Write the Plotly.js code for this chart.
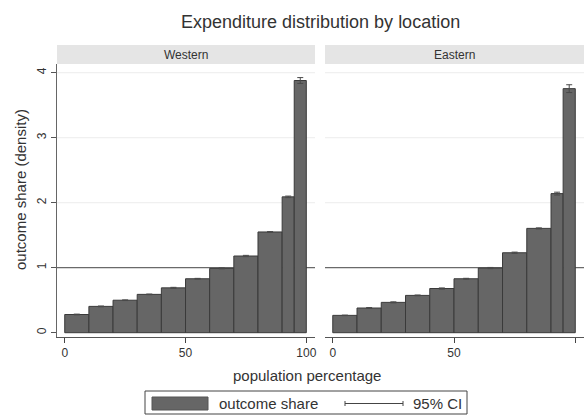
<!DOCTYPE html>
<html>
<head>
<meta charset="utf-8">
<script src="https://cdn.plot.ly/plotly-3.0.1.min.js"></script>
<style>html,body{margin:0;padding:0;background:#fff;}#chart{width:584px;height:416px;}</style>
</head>
<body>
<div id="chart"></div>
<script>
// Population percentage bins (lower, upper)
const binLow  = [0, 10, 20, 30, 40, 50, 60, 70, 80, 90, 95];
const binHigh = [10, 20, 30, 40, 50, 60, 70, 80, 90, 95, 100];
// Outcome share (density)
const westernShare = [0.28, 0.405, 0.50, 0.59, 0.69, 0.83, 0.99, 1.18, 1.55, 2.09, 3.88];
const easternShare = [0.267, 0.38, 0.467, 0.574, 0.68, 0.83, 0.995, 1.23, 1.605, 2.14, 3.755];
// 95% CI half-widths
const westernCI = [0.006, 0.006, 0.005, 0.005, 0.008, 0.006, 0.007, 0.01, 0.006, 0.012, 0.045];
const easternCI = [0.004, 0.007, 0.008, 0.006, 0.009, 0.007, 0.009, 0.01, 0.008, 0.022, 0.06];
const panels = ["Western", "Eastern"];
const xTicks = [0, 50, 100];
const yTicks = [0, 1, 2, 3, 4];
const refLine = 1;

const mids = binLow.map((l, i) => (l + binHigh[i]) / 2);
const widths = binLow.map((l, i) => binHigh[i] - l);

function barTrace(vals, ci, xa, ya) {
  return {
    type: 'bar', x: mids, y: vals, width: widths, xaxis: xa, yaxis: ya,
    marker: {color: '#666666', line: {color: '#3a3a3a', width: 1}},
    error_y: {type: 'data', array: ci, visible: true, color: '#4a4a4a', thickness: 1, width: 3},
    showlegend: false, hoverinfo: 'skip'
  };
}

const data = [
  barTrace(westernShare, westernCI, 'x', 'y'),
  barTrace(easternShare, easternCI, 'x2', 'y2')
];

const font = "'Liberation Sans', Arial, sans-serif";
const yBot = (416 - 337) / 416, yTop = (416 - 64) / 416;
const xDom1 = [57 / 584, 315 / 584], xDom2 = [325 / 584, 1];
const yRange = [-0.066, 4.134];
const xRange = [-3.2, 103.6];

const xaxisBase = {
  range: xRange, tickvals: xTicks, ticks: 'outside', ticklen: 5, tickcolor: '#444',
  showline: true, linecolor: '#555', linewidth: 1, showgrid: false, zeroline: false,
  tickfont: {family: font, size: 12, color: '#333'}, fixedrange: true
};
const yaxisBase = {
  range: yRange, tickvals: yTicks, domain: [yBot, yTop], showgrid: false,
  zeroline: false, fixedrange: true
};

const shapes = [];
const annotations = [];
[['x', xDom1], ['x2', xDom2]].forEach(([xa, dom], i) => {
  const ya = i === 0 ? 'y' : 'y2';
  // strip
  shapes.push({type: 'rect', xref: 'paper', yref: 'paper', x0: dom[0], x1: dom[1],
    y0: (416 - 64) / 416, y1: (416 - 45) / 416, fillcolor: '#e5e5e5', line: {width: 0}, layer: 'below'});
  annotations.push({xref: 'paper', yref: 'paper', x: (dom[0] + dom[1]) / 2, y: (416 - 54.5) / 416,
    text: panels[i], showarrow: false, font: {family: font, size: 12, color: '#333'}, xanchor: 'center', yanchor: 'middle'});
  // light gridlines
  yTicks.filter(t => t > 0 && t !== refLine).forEach(t => {
    shapes.push({type: 'line', xref: xa + ' domain', yref: ya, x0: 0, x1: 1, y0: t, y1: t,
      line: {color: '#ececec', width: 1}, layer: 'below'});
  });
  // reference line
  shapes.push({type: 'line', xref: xa + ' domain', yref: ya, x0: 0, x1: 1, y0: refLine, y1: refLine,
    line: {color: '#6a6a6a', width: 1.3}, layer: 'below'});
});

const px = v => v / 584, py = v => (416 - v) / 416;
// titles
annotations.push({xref: 'paper', yref: 'paper', x: px(320.5), y: py(22), text: 'Expenditure distribution by location',
  showarrow: false, font: {family: font, size: 18, color: '#333'}, xanchor: 'center', yanchor: 'middle'});
annotations.push({xref: 'paper', yref: 'paper', x: px(307), y: py(375), text: 'population percentage',
  showarrow: false, font: {family: font, size: 15, color: '#333'}, xanchor: 'center', yanchor: 'middle'});
annotations.push({xref: 'paper', yref: 'paper', x: px(20), y: py(190), text: 'outcome share (density)',
  showarrow: false, textangle: -90, font: {family: font, size: 15, color: '#333'}, xanchor: 'center', yanchor: 'middle'});

// legend box
shapes.push({type: 'rect', xref: 'paper', yref: 'paper', x0: px(145), x1: px(467), y0: py(414), y1: py(391),
  line: {color: '#444', width: 1}, fillcolor: 'rgba(0,0,0,0)'});
shapes.push({type: 'rect', xref: 'paper', yref: 'paper', x0: px(152), x1: px(208), y0: py(410), y1: py(397),
  line: {color: '#555', width: 1}, fillcolor: '#666666'});
shapes.push({type: 'line', xref: 'paper', yref: 'paper', x0: px(345), x1: px(403), y0: py(403.5), y1: py(403.5),
  line: {color: '#444', width: 1}});
shapes.push({type: 'line', xref: 'paper', yref: 'paper', x0: px(345), x1: px(345), y0: py(401), y1: py(406),
  line: {color: '#444', width: 1}});
shapes.push({type: 'line', xref: 'paper', yref: 'paper', x0: px(403), x1: px(403), y0: py(401), y1: py(406),
  line: {color: '#444', width: 1}});
annotations.push({xref: 'paper', yref: 'paper', x: px(217), y: py(403.5), text: 'outcome share', showarrow: false,
  font: {family: font, size: 15, color: '#333'}, xanchor: 'left', yanchor: 'middle'});
annotations.push({xref: 'paper', yref: 'paper', x: px(411), y: py(403.5), text: '95% CI', showarrow: false,
  font: {family: font, size: 15, color: '#333'}, xanchor: 'left', yanchor: 'middle'});

const layout = {
  width: 584, height: 416, margin: {l: 0, r: 0, t: 0, b: 0},
  paper_bgcolor: '#ffffff', plot_bgcolor: '#ffffff', showlegend: false, bargap: 0,
  xaxis: Object.assign({}, xaxisBase, {domain: xDom1, anchor: 'y'}),
  xaxis2: Object.assign({}, xaxisBase, {domain: xDom2, anchor: 'y2'}),
  yaxis: Object.assign({}, yaxisBase, {anchor: 'x', showline: true, linecolor: '#666', linewidth: 1,
    ticks: 'outside', ticklen: 5, tickcolor: '#555', tickangle: -90,
    tickfont: {family: font, size: 12, color: '#333'}}),
  yaxis2: Object.assign({}, yaxisBase, {anchor: 'x2', showline: false, ticks: '', showticklabels: false}),
  shapes: shapes, annotations: annotations
};

Plotly.newPlot('chart', data, layout, {staticPlot: true, displayModeBar: false});
</script>
</body>
</html>
